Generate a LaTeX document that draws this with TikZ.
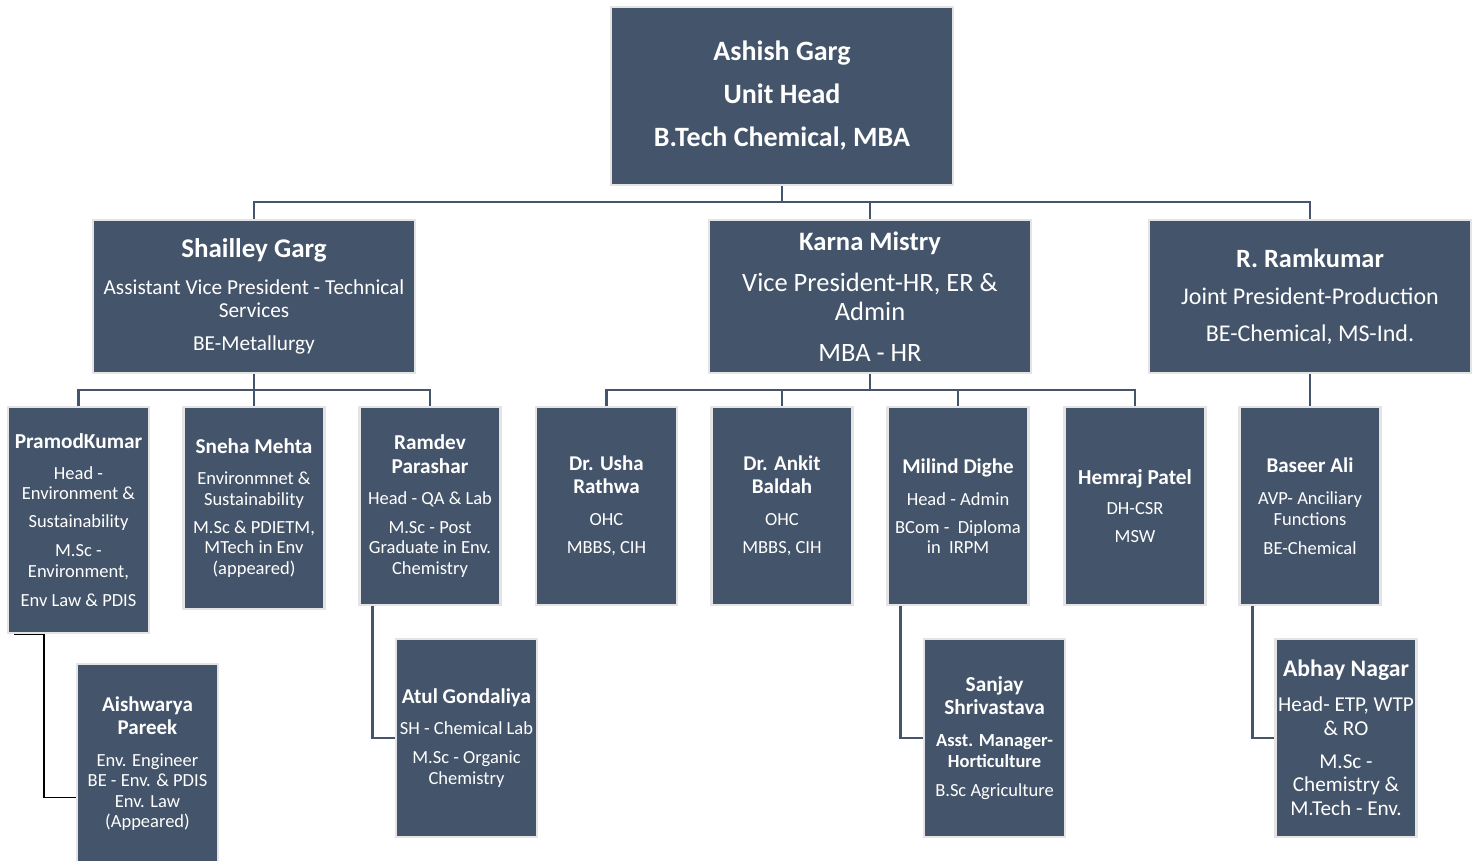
\documentclass[tikz,border=0pt]{standalone}
\usepackage{fontspec}
\setmainfont{Carlito}
\definecolor{boxc}{HTML}{44546A}
\definecolor{edgec}{HTML}{E4E4E4}
\newcommand\nm[2]{{\bfseries\fontsize{#1}{#1}\selectfont #2}}
\tikzset{
  orgbox/.style={draw=edgec, line width=2.5pt, fill=boxc, text=white, align=center,
    inner sep=0pt, font=\fontsize{18.5}{20.5}\selectfont},
  smallbox/.style={orgbox, minimum width=141pt, minimum height=198pt},
  conn/.style={draw=boxc, line width=2.5pt},
  blackconn/.style={draw=black, line width=1.5pt}
}
\begin{document}
\begin{tikzpicture}[x=1pt,y=-1pt]
\useasboundingbox (0,0) rectangle (1480,861);
% top
\node[orgbox, minimum width=342pt, minimum height=178pt,
  font=\bfseries\fontsize{28}{43}\selectfont] (ash) at (782,96)
  {Ashish Garg\\Unit Head\\B.Tech Chemical, MBA};
% level 2
\node[orgbox, minimum width=322pt, minimum height=153pt,
  font=\fontsize{21.3}{23}\selectfont] (shai) at (254,296.5)
  {\nm{27}{Shailley Garg}\\[14pt]Assistant Vice President - Technical\\Services\\[10pt]BE-Metallurgy};
\node[orgbox, minimum width=322pt, minimum height=153pt,
  font=\fontsize{26.5}{29}\selectfont] (karna) at (870,296.5)
  {\nm{26.6}{Karna Mistry}\\[12pt]Vice President-HR, ER \&\\Admin\\[12pt]MBA - HR};
\node[orgbox, minimum width=322pt, minimum height=153pt,
  font=\fontsize{24}{37}\selectfont] (ram) at (1310,296.5)
  {\nm{26.4}{R. Ramkumar}\\Joint President-Production\\BE-Chemical, MS-Ind.};
% level 3
\node[smallbox, minimum height=226pt] (pramod) at (78.5,520)
  {\nm{21.3}{PramodKumar}\\[10.5pt]Head -\\Environment \&\\[7.5pt]Sustainability\\[8.5pt]M.Sc -\\Environment,\\[8.5pt]Env Law \& PDIS};
\node[smallbox, minimum height=202pt] (sneha) at (254,508)
  {\nm{21.2}{Sneha Mehta}\\[10.5pt]Environmnet \&\\Sustainability\\[7.5pt]M.Sc \& PDIETM,\\MTech in Env\\(appeared)};
\node[smallbox] (ramdev) at (430,506)
  {\nm{21.2}{Ramdev}\\[3.5pt]\nm{21.2}{Parashar}\\[10.5pt]Head - QA \& Lab\\[8.5pt]M.Sc - Post\\Graduate in Env.\\Chemistry};
\node[smallbox] (usha) at (606.5,506)
  {\nm{21}{Dr. Usha}\\[2.5pt]\nm{21}{Rathwa}\\[11.5pt]OHC\\[7.5pt]MBBS, CIH};
\node[smallbox] (ankit) at (782,506)
  {\nm{21}{Dr. Ankit}\\[2.5pt]\nm{21}{Baldah}\\[11.5pt]OHC\\[7.5pt]MBBS, CIH};
\node[smallbox] (milind) at (958,506)
  {\nm{21}{Milind Dighe}\\[11.5pt]Head - Admin\\[7.5pt]BCom -\ \ Diploma\\in\ \ IRPM};
\node[smallbox] (hemraj) at (1135,506)
  {\nm{21.3}{Hemraj Patel}\\[9.5pt]DH-CSR\\[7.5pt]MSW};
\node[smallbox] (baseer) at (1310,506)
  {\nm{21}{Baseer Ali}\\[11.5pt]AVP- Anciliary\\Functions\\[8.5pt]BE-Chemical};
% level 4
\node[smallbox, minimum height=199pt] (aish) at (147.5,763.5)
  {\nm{21}{Aishwarya}\\[2.5pt]\nm{21}{Pareek}\\[11.5pt]Env. Engineer\\BE - Env. \& PDIS\\Env. Law\\(Appeared)};
\node[smallbox] (atul) at (466.5,738)
  {\nm{21.1}{Atul Gondaliya}\\[10.5pt]SH - Chemical Lab\\[8.5pt]M.Sc - Organic\\Chemistry};
\node[smallbox] (sanjay) at (994.5,738)
  {\nm{21.3}{Sanjay}\\[2.5pt]\nm{21.3}{Shrivastava}\\[11.5pt]\nm{18.5}{Asst. Manager-}\\\nm{18.5}{Horticulture}\\[8.5pt]B.Sc Agriculture};
\node[smallbox, font=\fontsize{21.2}{23.5}\selectfont] (abhay) at (1346,738)
  {\nm{23.7}{Abhay Nagar}\\[11.5pt]Head- ETP, WTP\\\& RO\\[9.5pt]M.Sc -\\Chemistry \&\\M.Tech - Env.};
% connectors
\coordinate (b1) at (782,202);
\draw[conn] (ash.south) -- (b1);
\draw[conn] (b1) -| (shai.north);
\draw[conn] (b1) -| (karna.north);
\draw[conn] (b1) -| (ram.north);
\coordinate (b2) at (254,390);
\draw[conn] (shai.south) -- (b2);
\draw[conn] (b2) -| (pramod.north);
\draw[conn] (b2) -| (sneha.north);
\draw[conn] (b2) -| (ramdev.north);
\coordinate (b3) at (870,390);
\draw[conn] (karna.south) -- (b3);
\draw[conn] (b3) -| (usha.north);
\draw[conn] (b3) -| (ankit.north);
\draw[conn] (b3) -| (milind.north);
\draw[conn] (b3) -| (hemraj.north);
\draw[conn] (ram.south) -- (baseer.north);
\draw[conn] ([xshift=14pt]ramdev.south west) |- (atul.west);
\draw[conn] ([xshift=14pt]milind.south west) |- (sanjay.west);
\draw[conn] ([xshift=14pt]baseer.south west) |- (abhay.west);
\draw[blackconn] ([xshift=7pt]pramod.south west) -- ([xshift=37pt]pramod.south west)
  |- ([yshift=-34pt]aish.west);
\end{tikzpicture}
\end{document}
